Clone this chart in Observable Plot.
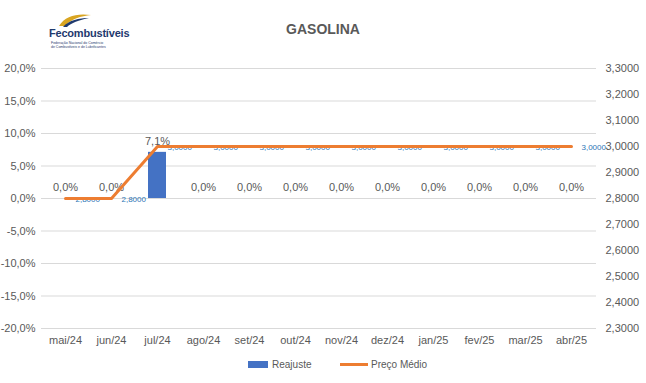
<!DOCTYPE html>
<html>
<head>
<meta charset="utf-8">
<script src="https://cdn.jsdelivr.net/npm/d3@7"></script>
<script src="https://cdn.jsdelivr.net/npm/@observablehq/plot@0.6"></script>
<style>
  body { margin: 0; background: #fff; font-family: "Liberation Sans", Arial, sans-serif; }
  #wrap { position: relative; width: 646px; height: 383px; overflow: hidden; }
  #header { position: absolute; left: 0; top: 0; width: 646px; height: 50px; }
  #title { position: absolute; left: 0; width: 646px; top: 21px; text-align: center; font-weight: bold; font-size: 14px; color: #595959; }
  #logo { position: absolute; left: 49px; top: 12px; }
  #logo .name { position: absolute; left: 0; top: 15px; font-size: 11px; font-weight: bold; color: #1f3a6e; letter-spacing: -0.2px; white-space: nowrap; }
  #logo .tag { position: absolute; left: 2px; top: 29px; font-size: 3.5px; line-height: 4px; color: #1f3a6e; white-space: nowrap; }
  #chart { position: absolute; left: 0; top: 50px; }
  #legend { position: absolute; left: 0; top: 357px; width: 646px; height: 16px; font-size: 10px; color: #595959; }
  .lg { position: absolute; top: 0; display: flex; align-items: center; height: 14px; }
</style>
</head>
<body>
<div id="wrap">
  <div id="header">
    <div id="logo">
      <svg width="40" height="16" style="position:absolute;left:8px;top:0">
        <path d="M2,14 C8,4 20,1 34,3 C24,4 14,7 8,14 Z" fill="#d9a521"/>
        <path d="M6,15 C12,8 22,6 32,6 C22,8 14,11 10,15 Z" fill="#1f3a6e"/>
      </svg>
      <div class="name">Fecombustíveis</div>
      <div class="tag">Federação Nacional do Comércio<br>de Combustíveis e de Lubrificantes</div>
    </div>
    <div id="title">GASOLINA</div>
  </div>
  <div id="chart"></div>
  <div id="legend">
    <div class="lg" style="left:248px"><span style="display:inline-block;width:20px;height:7px;background:#4472c4;margin-right:4px"></span>Reajuste</div>
    <div class="lg" style="left:340px"><span style="display:inline-block;width:28px;height:3px;background:#ed7d31;margin-right:3px"></span>Preço Médio</div>
  </div>
</div>
<script>
const months = ["mai/24","jun/24","jul/24","ago/24","set/24","out/24","nov/24","dez/24","jan/25","fev/25","mar/25","abr/25"];
const reajuste = [0, 0, 7.1, 0, 0, 0, 0, 0, 0, 0, 0, 0];
const preco = [2.8, 2.8, 3.0, 3.0, 3.0, 3.0, 3.0, 3.0, 3.0, 3.0, 3.0, 3.0];
const leftTicks = [-20, -15, -10, -5, 0, 5, 10, 15, 20];
const rightTicks = [2.3, 2.4, 2.5, 2.6, 2.7, 2.8, 2.9, 3.0, 3.1, 3.2, 3.3];

// secondary axis mapping: price -> fraction on the primary (percent) scale
const toLeft = p => (p - 2.8) * 0.4;
const fmtPct = v => v.toFixed(1).replace(".", ",") + "%";
const fmtPrice = v => v.toFixed(4).replace(".", ",");

const rows = months.map((m, i) => ({m, r: reajuste[i], p: preco[i]}));

const chart = Plot.plot({
  width: 646,
  height: 308,
  marginTop: 18,
  marginBottom: 30,
  marginLeft: 41,
  marginRight: 50,
  style: {fontFamily: "Liberation Sans, Arial, sans-serif", fontSize: "11px", color: "#595959", background: "transparent"},
  x: {type: "band", domain: months, paddingInner: 0.6, paddingOuter: 0.3, label: null},
  y: {domain: [-0.2, 0.2], label: null},
  marks: [
    Plot.ruleY(leftTicks.map(d => d / 100), {stroke: "#d9d9d9", strokeWidth: 1}),
    Plot.axisY(leftTicks.map(d => d / 100), {anchor: "left", tickSize: 0, tickPadding: 6, tickFormat: d => fmtPct(d * 100), fill: "#595959", label: null}),
    Plot.axisY(rightTicks.map(toLeft), {anchor: "right", tickSize: 0, tickPadding: 9, tickFormat: (d, i) => fmtPrice(rightTicks[i]), fill: "#595959", label: null}),
    Plot.axisX({tickSize: 0, tickPadding: 8, fill: "#595959", label: null}),
    Plot.barY(rows, {x: "m", y: d => d.r / 100, fill: "#4472c4"}),
    Plot.text(rows, {x: "m", y: d => d.r / 100, text: d => fmtPct(d.r), dy: -11, fill: "#595959", fontSize: 11}),
    Plot.text(rows, {x: "m", y: d => toLeft(d.p), text: d => fmtPrice(d.p), textAnchor: "start", dx: 10, dy: 1, fill: "#2e75b6", fontSize: 8}),
    Plot.line(rows, {x: "m", y: d => toLeft(d.p), stroke: "#ed7d31", strokeWidth: 3})
  ]
});
document.getElementById("chart").appendChild(chart);
</script>
</body>
</html>
